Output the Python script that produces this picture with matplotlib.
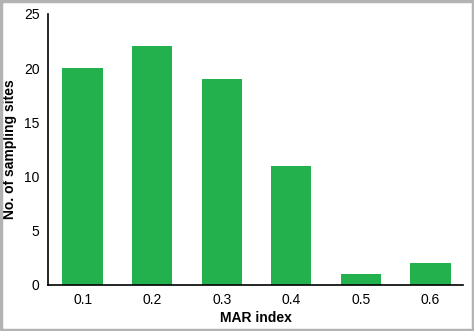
import matplotlib.pyplot as plt
from matplotlib.patches import Rectangle

plt.rcParams['font.family'] = ['Liberation Sans', 'DejaVu Sans']

# Daten
mar_index = ['0.1', '0.2', '0.3', '0.4', '0.5', '0.6']
sites = [20, 22, 19, 11, 1, 2]

fig = plt.figure(figsize=(4.74, 3.31), dpi=100)
ax = fig.add_axes([0.101, 0.139, 0.876, 0.819])

x = range(len(mar_index))
ax.bar(x, sites, width=0.58, color='#22b14c')

ax.set_xticks(list(x))
ax.set_xticklabels(mar_index)
ax.set_xlim(-0.5, 5.47)
ax.set_ylim(0, 25)
ax.set_yticks([0, 5, 10, 15, 20, 25])
ax.tick_params(length=0, labelsize=10, pad=6)

ax.spines['top'].set_visible(False)
ax.spines['right'].set_visible(False)
ax.spines['left'].set_linewidth(1.2)
ax.spines['bottom'].set_linewidth(1.2)

ax.set_xlabel('MAR index', fontsize=10, fontweight='bold')
ax.set_ylabel('No. of sampling sites', fontsize=10, fontweight='bold')
ax.xaxis.set_label_coords(0.5, -0.096)
ax.yaxis.set_label_coords(-0.075, 0.5)

# grauer Rahmen um die Grafik
fig.patches.append(Rectangle((0.002, 0.003), 0.996, 0.994, transform=fig.transFigure,
                             fill=False, edgecolor='#b3b3b3', linewidth=2.5))

fig.savefig('out.png', dpi=100)
